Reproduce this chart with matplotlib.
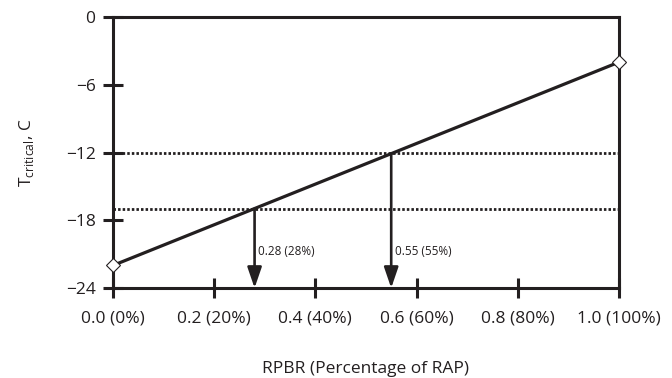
import matplotlib
matplotlib.use("Agg")
import matplotlib.pyplot as plt
import numpy as np

plt.rcParams['font.family'] = ['Open Sans', 'DejaVu Sans']

# Data
rpbr_ends = [0.0, 1.0]
tcrit_ends = [-22.0, -4.0]
threshold_levels = [-12.0, -17.0]
threshold_rpbr = [0.55, 0.28]
threshold_labels = ["0.55 (55%)", "0.28 (28%)"]
x_ticks = [0.0, 0.2, 0.4, 0.6, 0.8, 1.0]
x_tick_labels = ["0.0 (0%)", "0.2 (20%)", "0.4 (40%)", "0.6 (60%)", "0.8 (80%)", "1.0 (100%)"]
y_ticks = [0, -6, -12, -18, -24]
y_tick_labels = ["0", "\u22126", "\u221212", "\u221218", "\u221224"]

ink = "#231f20"

fig = plt.figure(figsize=(6.72, 3.78), dpi=100)
ax = fig.add_axes([0.168, 0.238, 0.753, 0.717])

ax.set_xlim(0, 1)
ax.set_ylim(-24, 0)

# Threshold lines
for lvl in threshold_levels:
    ax.plot([0, 1], [lvl, lvl], color=ink, lw=2.0,
            linestyle=(0, (0.9, 0.75)), solid_capstyle='butt', zorder=2)

# Main relation
ax.plot(rpbr_ends, tcrit_ends, color=ink, lw=2.3, zorder=3)
ax.plot(rpbr_ends, tcrit_ends, linestyle='none', marker='D', markersize=7,
        markerfacecolor='white', markeredgecolor=ink, markeredgewidth=0.8,
        clip_on=False, zorder=5)

# Arrows from intersection down to the x axis
slope = (tcrit_ends[1] - tcrit_ends[0]) / (rpbr_ends[1] - rpbr_ends[0])
for xv, lab in zip(threshold_rpbr, threshold_labels):
    yv = tcrit_ends[0] + slope * (xv - rpbr_ends[0])
    ax.annotate("", xy=(xv, -24), xytext=(xv, yv),
                arrowprops=dict(arrowstyle="-|>,head_length=1.05,head_width=0.36",
                                color=ink, lw=1.9, shrinkA=0, shrinkB=0,
                                mutation_scale=12),
                zorder=4)
    ax.text(xv + 0.007, -20.8, lab, fontsize=8.5, color=ink,
            ha='left', va='center')

for s in ax.spines.values():
    s.set_linewidth(2.2)
    s.set_color(ink)

ax.set_xticks(x_ticks)
ax.set_xticklabels(x_tick_labels)
ax.set_yticks(y_ticks)
ax.set_yticklabels(y_tick_labels)
ax.tick_params(axis='both', direction='inout', length=14, width=2.2,
               color=ink, labelcolor=ink, labelsize=12.5)
ax.tick_params(axis='x', pad=9)
ax.tick_params(axis='y', pad=5.5)

ax.set_xlabel("RPBR (Percentage of RAP)", fontsize=12.5, color=ink, labelpad=25)
ax.set_ylabel(r"T$_{\mathregular{critical}}$, C", fontsize=12.5, color=ink, labelpad=21)

fig.savefig("out.png", dpi=100)
